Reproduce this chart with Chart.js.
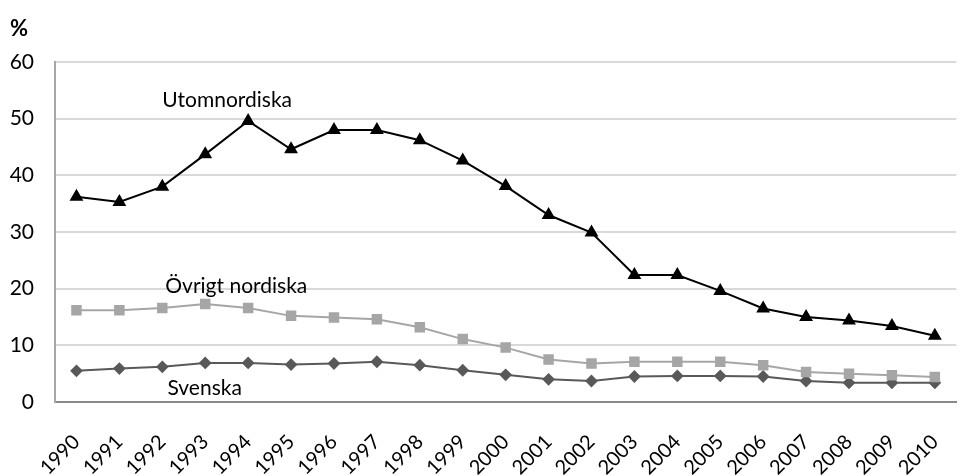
<!DOCTYPE html>
<html>
<head>
<meta charset="utf-8">
<script src="https://cdn.jsdelivr.net/npm/chart.js@4"></script>
<style>
  html, body { margin: 0; padding: 0; background: #fff; overflow: hidden; }
  #wrap { position: relative; width: 980px; height: 476px; }
</style>
</head>
<body>
<div id="wrap"><canvas id="lineChart"></canvas></div>
<script>
const years = ["1990", "1991", "1992", "1993", "1994", "1995", "1996", "1997", "1998", "1999", "2000",
  "2001", "2002", "2003", "2004", "2005", "2006", "2007", "2008", "2009", "2010"];
const utomnordiska = [36.2, 35.3, 38.0, 43.7, 49.6, 44.6, 48.0, 48.0, 46.2, 42.6, 38.1,
  33.0, 29.9, 22.4, 22.4, 19.6, 16.5, 15.0, 14.4, 13.4, 11.7];
const ovrigtNordiska = [16.2, 16.2, 16.6, 17.3, 16.6, 15.2, 14.9, 14.6, 13.2, 11.1, 9.6,
  7.5, 6.8, 7.1, 7.1, 7.1, 6.5, 5.3, 5.0, 4.7, 4.4];
const svenska = [5.5, 5.9, 6.2, 6.9, 6.9, 6.6, 6.8, 7.1, 6.5, 5.6, 4.8,
  4.0, 3.7, 4.5, 4.6, 4.6, 4.5, 3.7, 3.4, 3.4, 3.4];
const yTicks = [0, 10, 20, 30, 40, 50, 60];

const FONT = "Lato, 'Open Sans', sans-serif";

// series names written next to the lines, as in the original
const seriesLabels = {
  id: "seriesLabels",
  afterDatasetsDraw(chart) {
    const { ctx, scales: { x, y } } = chart;
    const items = [
      ["Utomnordiska", 2.0, 53.2],
      ["Övrigt nordiska", 2.07, 20.4],
      ["Svenska", 2.12, 2.5]
    ];
    ctx.save();
    ctx.font = "21px " + FONT;
    ctx.fillStyle = "#000";
    ctx.textAlign = "left";
    ctx.textBaseline = "middle";
    items.forEach(([t, xi, yv]) => {
      ctx.fillText(t, x.getPixelForValue(xi), y.getPixelForValue(yv));
    });
    ctx.font = "bold 22px " + FONT;
    ctx.fillText("%", 10, 29);
    ctx.restore();
  }
};

new Chart(document.getElementById("lineChart"), {
  type: "line",
  data: {
    labels: years,
    datasets: [
      {
        label: "Utomnordiska",
        data: utomnordiska,
        borderColor: "#000",
        backgroundColor: "#000",
        borderWidth: 2,
        pointStyle: "triangle",
        pointRadius: 6,
        tension: 0
      },
      {
        label: "Övrigt nordiska",
        data: ovrigtNordiska,
        borderColor: "#a6a6a6",
        backgroundColor: "#a6a6a6",
        borderWidth: 2,
        pointStyle: "rect",
        pointRadius: 6,
        tension: 0
      },
      {
        label: "Svenska",
        data: svenska,
        borderColor: "#595959",
        backgroundColor: "#595959",
        borderWidth: 2,
        pointStyle: "rectRot",
        pointRadius: 5,
        tension: 0
      }
    ]
  },
  options: {
    responsive: true,
    maintainAspectRatio: false,
    animation: false,
    layout: { padding: { top: 62, right: 4, left: 0, bottom: 0 } },
    plugins: {
      legend: { display: false },
      tooltip: { enabled: false }
    },
    scales: {
      x: {
        offset: true,
        grid: { display: false, drawTicks: false },
        border: { color: "#898989", width: 2 },
        ticks: {
          minRotation: 45,
          maxRotation: 45,
          padding: 28,
          color: "#000",
          font: { family: FONT, size: 20 }
        },
        afterFit(scale) { scale.height = 74; }
      },
      y: {
        min: 0,
        max: 60,
        afterBuildTicks(scale) { scale.ticks = yTicks.map(v => ({ value: v })); },
        grid: { color: "#d9d9d9", lineWidth: 2, drawTicks: false },
        border: { color: "#a6a6a6", width: 2 },
        ticks: {
          padding: 21,
          color: "#000",
          font: { family: FONT, size: 21 }
        },
        afterFit(scale) { scale.width = 55; }
      }
    }
  },
  plugins: [seriesLabels]
});
</script>
</body>
</html>
